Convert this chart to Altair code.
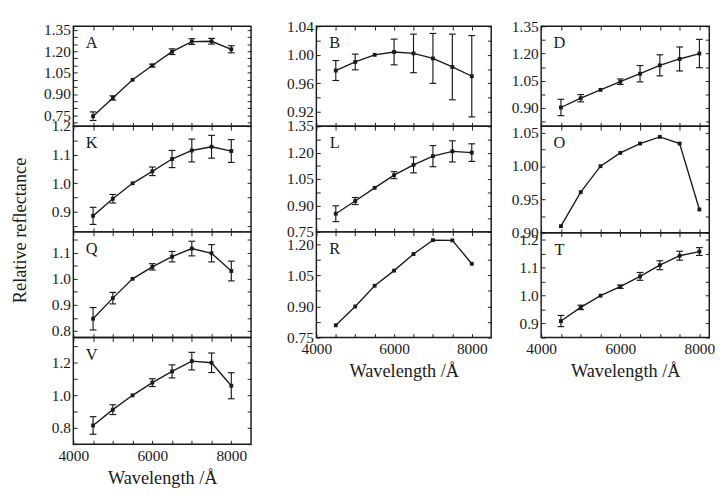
import altair as alt
import pandas as pd

# ---------------- data ----------------
wavelengths = [4500, 5000, 5500, 6000, 6500, 7000, 7500, 8000]

A_val = [0.745, 0.873, 1.00, 1.10, 1.197, 1.268, 1.270, 1.214]
A_err = [0.03, 0.015, 0.0, 0.01, 0.02, 0.02, 0.02, 0.025]
K_val = [0.886, 0.946, 1.00, 1.042, 1.085, 1.115, 1.128, 1.113]
K_err = [0.03, 0.015, 0.0, 0.015, 0.03, 0.04, 0.04, 0.04]
Q_val = [0.847, 0.926, 1.00, 1.046, 1.085, 1.116, 1.098, 1.030]
Q_err = [0.043, 0.022, 0.0, 0.012, 0.02, 0.028, 0.033, 0.038]
V_val = [0.815, 0.912, 1.00, 1.078, 1.147, 1.21, 1.20, 1.059]
V_err = [0.054, 0.03, 0.0, 0.024, 0.04, 0.054, 0.06, 0.08]
B_val = [0.978, 0.990, 1.000, 1.004, 1.002, 0.995, 0.983, 0.970]
B_err = [0.014, 0.011, 0.0, 0.018, 0.027, 0.035, 0.046, 0.057]
L_val = [0.853, 0.925, 1.00, 1.072, 1.13, 1.18, 1.207, 1.20]
L_err = [0.045, 0.02, 0.0, 0.02, 0.045, 0.06, 0.06, 0.05]
R_val = [0.809, 0.90, 1.00, 1.073, 1.153, 1.22, 1.219, 1.106]
D_val = [0.903, 0.954, 1.00, 1.045, 1.089, 1.135, 1.17, 1.20]
D_err = [0.045, 0.02, 0.0, 0.015, 0.045, 0.058, 0.066, 0.078]
O_val = [0.91, 0.961, 1.00, 1.02, 1.034, 1.044, 1.034, 0.935]
T_val = [0.909, 0.958, 1.00, 1.032, 1.069, 1.109, 1.143, 1.158]
T_err = [0.02, 0.008, 0.0, 0.006, 0.014, 0.016, 0.016, 0.014]

x_major = [4000, 6000, 8000]
x_minor = [4000, 4500, 5000, 5500, 6000, 6500, 7000, 7500, 8000]

INK = "#1a1a1a"
FONT = "Liberation Serif"


def minor_ticks(lo, hi, step):
    out = []
    k = int(lo / step) - 1
    while k * step <= hi + 1e-9:
        v = round(k * step, 4)
        if lo - 1e-9 <= v <= hi + 1e-9:
            out.append(v)
        k += 1
    return out


def panel(name, vals, errs, ydom, yvals, yfmt, ystep, w, h, xdom,
          bottom=False, ytitle=False):
    df = pd.DataFrame({"wl": wavelengths, "val": vals})
    xs = alt.Scale(domain=xdom, nice=False, zero=False)
    ys = alt.Scale(domain=ydom, nice=False, zero=False)
    yminor = minor_ticks(ydom[0], ydom[1], ystep)

    x_lab = alt.Axis(values=x_major, format="d", ticks=False, tickSize=0,
                     domain=False, labels=bottom, labelPadding=4,
                     title="Wavelength /Å" if bottom else None,
                     titlePadding=6, labelFlush=False, labelOverlap=False)
    y_kw = dict(values=yvals, format=yfmt, ticks=False, tickSize=0,
                domain=False, labelPadding=3, labelFlush=False,
                labelOverlap=False)
    if ytitle:
        y_lab = alt.Axis(title="Relative reflectance", titleX=-56, titleY=-2,
                         titleAngle=270, titleAlign="center",
                         titleBaseline="middle", **y_kw)
    else:
        y_lab = alt.Axis(title=None, **y_kw)

    in_kw = dict(labels=False, domain=False, ticks=True, tickSize=4,
                 tickColor=INK, tickWidth=1, title=None, grid=False)
    x_in_top = alt.Axis(orient="bottom", offset=-h, values=x_minor, **in_kw)
    x_in_bot = alt.Axis(orient="top", offset=-h, values=x_minor, **in_kw)
    y_in_left = alt.Axis(orient="right", offset=-w, values=yminor, **in_kw)
    y_in_right = alt.Axis(orient="left", offset=-w, values=yminor, **in_kw)

    base = alt.Chart(df)
    line = base.mark_line(color=INK, strokeWidth=1.4).encode(
        x=alt.X("wl:Q", scale=xs, axis=x_lab),
        y=alt.Y("val:Q", scale=ys, axis=y_lab),
    )
    pts = base.mark_square(size=16, color=INK, opacity=1).encode(
        x=alt.X("wl:Q", scale=xs, axis=x_in_top),
        y=alt.Y("val:Q", scale=ys, axis=y_in_left),
    )
    ghost = base.mark_point(opacity=0).encode(
        x=alt.X("wl:Q", scale=xs, axis=x_in_bot),
        y=alt.Y("val:Q", scale=ys, axis=y_in_right),
    )
    layers = [line, pts, ghost]
    if errs is not None:
        edf = pd.DataFrame({"wl": wavelengths, "val": vals, "err": errs})
        edf = edf[edf["err"] > 0].copy()
        edf["lo"] = edf["val"] - edf["err"]
        edf["hi"] = edf["val"] + edf["err"]
        eb = alt.Chart(edf)
        rule = eb.mark_rule(color=INK, strokeWidth=1.2).encode(
            x=alt.X("wl:Q", scale=xs, axis=None),
            y=alt.Y("lo:Q", scale=ys, axis=None),
            y2="hi:Q",
        )
        cap_lo = eb.mark_tick(orient="horizontal", size=7, thickness=1.2,
                              color=INK, opacity=1).encode(
            x=alt.X("wl:Q", scale=xs, axis=None),
            y=alt.Y("lo:Q", scale=ys, axis=None),
        )
        cap_hi = eb.mark_tick(orient="horizontal", size=7, thickness=1.2,
                              color=INK, opacity=1).encode(
            x=alt.X("wl:Q", scale=xs, axis=None),
            y=alt.Y("hi:Q", scale=ys, axis=None),
        )
        layers += [rule, cap_lo, cap_hi]
    lab = alt.Chart(pd.DataFrame({"label": [name]})).mark_text(
        font=FONT, fontSize=17, color=INK, align="center", baseline="middle"
    ).encode(text="label:N", x=alt.value(19), y=alt.value(18))
    layers.append(lab)
    return alt.layer(*layers).resolve_axis(
        x="independent", y="independent"
    ).properties(width=w, height=h)


X12 = [4000, 8500]
X3 = [4000, 8250]
W1, W2, W3 = 185, 182, 175

col1 = alt.vconcat(
    panel("A", A_val, A_err, [0.675, 1.375], [0.75, 0.90, 1.05, 1.20, 1.35], ".2f", 0.05, W1, 104, X12),
    panel("K", K_val, K_err, [0.83, 1.20], [0.9, 1.0, 1.1, 1.2], ".1f", 0.05, W1, 110, X12),
    panel("Q", Q_val, Q_err, [0.775, 1.18], [0.8, 0.9, 1.0, 1.1], ".1f", 0.05, W1, 110, X12, ytitle=True),
    panel("V", V_val, V_err, [0.70, 1.355], [0.8, 1.0, 1.2], ".1f", 0.1, W1, 111, X12, bottom=True),
    spacing=0, bounds="flush",
)
col2 = alt.vconcat(
    panel("B", B_val, B_err, [0.90, 1.04], [0.92, 0.96, 1.00, 1.04], ".2f", 0.02, W2, 104, X12),
    panel("L", L_val, L_err, [0.75, 1.35], [0.75, 0.90, 1.05, 1.20, 1.35], ".2f", 0.075, W2, 110, X12),
    panel("R", R_val, None, [0.75, 1.26], [0.75, 0.90, 1.05, 1.20], ".2f", 0.075, W2, 110, X12, bottom=True),
    spacing=0, bounds="flush",
)
col3 = alt.vconcat(
    panel("D", D_val, D_err, [0.80, 1.35], [0.90, 1.05, 1.20, 1.35], ".2f", 0.075, W3, 104, X3),
    panel("O", O_val, None, [0.90, 1.06], [0.90, 0.95, 1.00, 1.05], ".2f", 0.025, W3, 111, X3),
    panel("T", T_val, T_err, [0.85, 1.225], [0.9, 1.0, 1.1, 1.2], ".1f", 0.05, W3, 109, X3, bottom=True),
    spacing=0, bounds="flush",
)

left_pair = alt.hconcat(col1, col2, spacing=34)
chart = alt.hconcat(left_pair, col3, spacing=18).properties(
    padding={"left": 2, "top": 0, "right": 0, "bottom": 0}
).configure(
    font=FONT,
).configure_axis(
    labelFont=FONT, labelFontSize=16, labelColor=INK,
    titleFont=FONT, titleFontSize=19, titleColor=INK, titleFontWeight="normal",
    grid=False,
).configure_view(
    stroke=INK, strokeWidth=1.5,
)

chart.save("out.html", embed_options={"renderer": "svg", "actions": False})
